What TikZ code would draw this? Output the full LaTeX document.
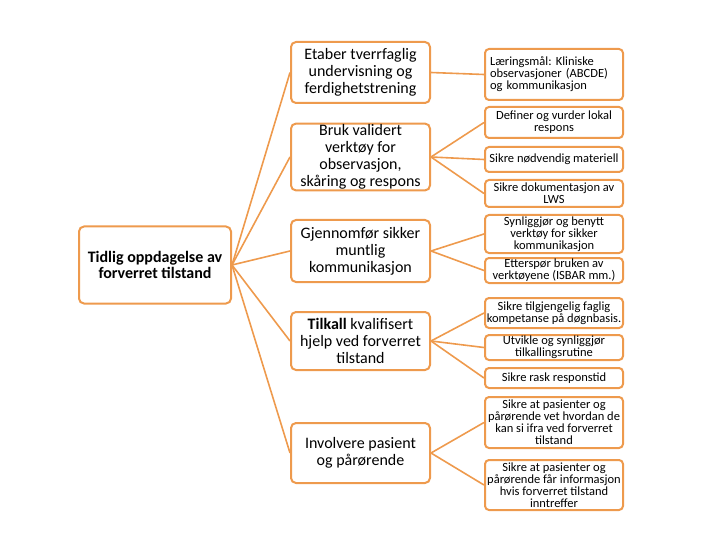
\documentclass[tikz,border=0pt]{standalone}
\usepackage{fontspec}
\setmainfont{Carlito}
\usepackage{xcolor}
\usetikzlibrary{positioning}
\definecolor{Peach}{HTML}{EE9A4D}
\frenchspacing
\begin{document}
\begin{tikzpicture}[x=1pt,y=-1pt,
  hub/.style={draw=Peach,line width=2pt,fill=white,rounded corners=5pt,align=center,font=\fontsize{16}{16}\selectfont\bfseries,minimum width=152pt,minimum height=77pt,inner sep=2pt},
  mid/.style={draw=Peach,line width=2pt,fill=white,rounded corners=5pt,align=center,font=\fontsize{16}{17}\selectfont,minimum width=139pt,inner sep=1pt},
  leaf/.style={draw=Peach,line width=2pt,fill=white,rounded corners=4pt,align=center,font=\fontsize{12.5}{12}\selectfont,minimum width=138pt,inner sep=1pt},
  link/.style={draw=Peach,line width=1.6pt}]
\useasboundingbox (0,0) rectangle (720,540);
\node[hub] (root) at (155,265) {Tidlig oppdagelse av\\forverret tilstand};
% middle column
\node[mid,minimum height=61pt] (teach) at (360.5,72.5) {Etaber tverrfaglig\\undervisning og\\ferdighetstrening};
\node[mid,minimum height=60pt] (tool) at (360.5,157) {Bruk validert\\verktøy for\\observasjon,\\skåring og respons};
\node[mid,minimum height=62pt] (talk) at (360.5,251) {Gjennomfør sikker\\muntlig\\kommunikasjon};
\node[mid,minimum height=58pt] (call) at (360.5,341) {\textbf{Tilkall} kvalifisert\\hjelp ved forverret\\tilstand};
\node[mid,minimum height=60pt] (kin) at (360.5,453) {Involvere pasient\\og pårørende};
% right column
\node[leaf,minimum height=51pt,text width=128pt,align=left] (goal) at (554,74.5) {Læringsmål: Kliniske\\observasjoner (ABCDE)\\og kommunikasjon};
\node[leaf,minimum height=31pt] (local) at (554,122.5) {Definer og vurder lokal\\respons};
\node[leaf,minimum height=25pt] (gear) at (554,159.5) {Sikre nødvendig materiell};
\node[leaf,minimum height=27pt] (lws) at (554,193.5) {Sikre dokumentasjon av\\LWS};
\node[leaf,minimum height=38pt] (show) at (554,234) {Synliggjør og benytt\\verktøy for sikker\\kommunikasjon};
\node[leaf,minimum height=25pt] (isbar) at (554,270.5) {Etterspør bruken av\\verktøyene (ISBAR mm.)};
\node[leaf,minimum height=30pt] (staff) at (554,313) {Sikre tilgjengelig faglig\\kompetanse på døgnbasis.};
\node[leaf,minimum height=25pt] (rout) at (554,347.5) {Utvikle og synliggjør\\tilkallingsrutine};
\node[leaf,minimum height=20pt] (fast) at (554,378) {Sikre rask responstid};
\node[leaf,minimum height=51pt] (speak) at (554,422.5) {Sikre at pasienter og\\pårørende vet hvordan de\\kan si ifra ved forverret\\tilstand};
\node[leaf,minimum height=50pt] (info) at (554,485) {Sikre at pasienter og\\pårørende får informasjon\\hvis forverret tilstand\\inntreffer};
% connectors
\foreach \m in {teach,tool,talk,call,kin}
  \draw[link] (root.east) -- (\m.west);
\draw[link] (teach.east) -- (goal.west);
\foreach \r in {local,gear,lws}
  \draw[link] (tool.east) -- (\r.west);
\foreach \r in {show,isbar}
  \draw[link] (talk.east) -- (\r.west);
\foreach \r in {staff,rout,fast}
  \draw[link] (call.east) -- (\r.west);
\foreach \r in {speak,info}
  \draw[link] (kin.east) -- (\r.west);
\end{tikzpicture}
\end{document}
